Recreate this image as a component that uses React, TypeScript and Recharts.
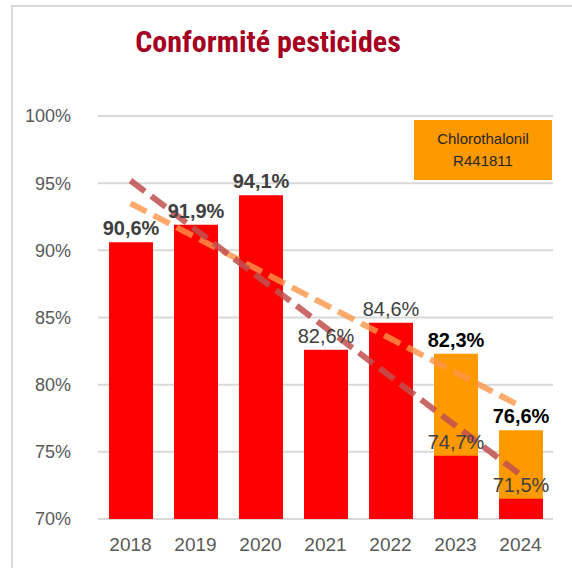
import { ComposedChart, Bar, Line, XAxis, YAxis, CartesianGrid, LabelList } from 'recharts';

// Conformity rate per year (%)
const years = ['2018', '2019', '2020', '2021', '2022', '2023', '2024'];
const conformity = [90.6, 91.9, 94.1, 82.6, 84.6, 74.7, 71.5];
// Rate without Chlorothalonil R471811 (only measured 2023-2024)
const withoutChloro = [null, null, null, null, null, 82.3, 76.6];
// Trend lines (ends only)
const trendAll = [95.2, null, null, null, null, null, 73.3];
const trendWithout = [93.5, null, null, null, null, null, 78.4];
const yTicks = [70, 75, 80, 85, 90, 95, 100];

const data = years.map((year, i) => ({
    year,
    conformity: conformity[i],
    withoutChloro: withoutChloro[i],
    trendAll: trendAll[i],
    trendWithout: trendWithout[i],
}));

const fmt = (v: number) => `${v.toFixed(1).replace('.', ',')}%`;
const FONT = "'Liberation Sans', Arial, sans-serif";

const redLabel = (props: any) => {
    const { x, y, width, value, index } = props;
    if (value == null) return null;
    const bold = index < 3;
    return (
        <text
            x={x + width / 2}
            y={y - 7}
            textAnchor="middle"
            fontFamily={FONT}
            fontSize={20}
            fontWeight={bold ? 700 : 400}
            fill="#404040"
        >
            {fmt(value)}
        </text>
    );
};

const orangeLabel = (props: any) => {
    const { x, y, width, value } = props;
    if (value == null) return null;
    return (
        <text x={x + width / 2} y={y - 7} textAnchor="middle" fontFamily={FONT} fontSize={20} fontWeight={700} fill="#000000">
            {fmt(value)}
        </text>
    );
};

export default function App() {
    return (
        <div style={{ position: 'absolute', left: 0, top: 0, width: 572, height: 568, overflow: 'hidden', background: '#fff' }}>
            <div
                style={{
                    position: 'absolute',
                    left: 11,
                    top: 5,
                    width: 700,
                    height: 700,
                    borderLeft: '2px solid #d9d9d9',
                    borderTop: '2px solid #d9d9d9',
                }}
            />
            <div
                style={{
                    position: 'absolute',
                    left: 0,
                    width: 536,
                    top: 24,
                    textAlign: 'center',
                    fontFamily: "'Liberation Sans Narrow', 'Roboto Condensed', Roboto, sans-serif",
                    fontWeight: 700,
                    fontSize: 30,
                    color: '#a50021',
                }}
            >
                Conformité pesticides
            </div>
            <div style={{ position: 'absolute', left: 0, top: 0 }}>
                <ComposedChart width={572} height={568} data={data} margin={{ top: 116, right: 19, bottom: 0, left: 0 }} barGap={-44}>
                    <CartesianGrid vertical={false} stroke="#d9d9d9" strokeWidth={2} />
                    <XAxis
                        dataKey="year"
                        height={49}
                        axisLine={false}
                        tickLine={false}
                        tickMargin={13}
                        tick={{ fill: '#595959', fontSize: 19, fontFamily: FONT }}
                    />
                    <YAxis
                        width={98}
                        domain={[70, 100]}
                        ticks={yTicks}
                        allowDataOverflow
                        axisLine={false}
                        tickLine={false}
                        tickMargin={21}
                        tickFormatter={(v) => `${v}%`}
                        tick={{ fill: '#595959', fontSize: 18, fontFamily: FONT }}
                    />
                    <Bar dataKey="withoutChloro" fill="#ff9900" barSize={44} isAnimationActive={false}>
                        <LabelList dataKey="withoutChloro" content={orangeLabel} />
                    </Bar>
                    <Bar dataKey="conformity" fill="#ff0000" barSize={44} isAnimationActive={false}>
                        <LabelList dataKey="conformity" content={redLabel} />
                    </Bar>
                    <Line
                        dataKey="trendWithout"
                        stroke="#ff9548"
                        strokeOpacity={0.8}
                        strokeWidth={6}
                        strokeDasharray="18 8"
                        dot={false}
                        connectNulls
                        isAnimationActive={false}
                    />
                    <Line
                        dataKey="trendAll"
                        stroke="#c0504d"
                        strokeOpacity={0.85}
                        strokeWidth={6}
                        strokeDasharray="18 8"
                        dot={false}
                        connectNulls
                        isAnimationActive={false}
                    />
                </ComposedChart>
            </div>
            <div
                style={{
                    position: 'absolute',
                    left: 414,
                    top: 120,
                    width: 138,
                    height: 60,
                    background: '#ff9900',
                    display: 'flex',
                    flexDirection: 'column',
                    justifyContent: 'center',
                    alignItems: 'center',
                    fontFamily: FONT,
                    fontSize: 15,
                    lineHeight: '22px',
                    color: '#262626',
                }}
            >
                <span>Chlorothalonil</span>
                <span>R441811</span>
            </div>
        </div>
    );
}
